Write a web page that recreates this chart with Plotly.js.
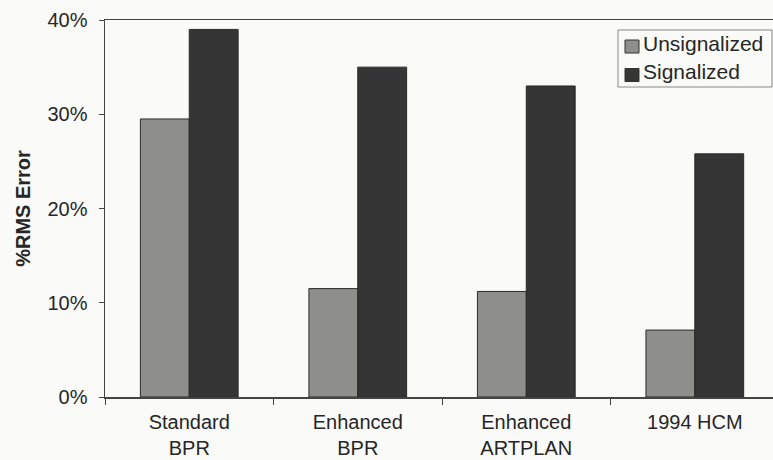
<!DOCTYPE html>
<html>
<head>
<meta charset="utf-8">
<script src="https://cdn.plot.ly/plotly-3.0.1.min.js"></script>
<style>
  html, body { margin: 0; padding: 0; background: #fafaf8; }
  #chart { width: 773px; height: 460px; }
</style>
</head>
<body>
<div id="chart"></div>
<script>
// Model names (two-line labels) and RMS error per intersection type, in percent
const models = ["Standard<br>BPR", "Enhanced<br>BPR", "Enhanced<br>ARTPLAN", "1994 HCM"];
const unsignalized = [29.5, 11.5, 11.2, 7.1];
const signalized = [39.0, 35.0, 33.0, 25.8];
const yTicks = [0, 10, 20, 30, 40];
const yTickText = yTicks.map(v => v + "%");

const W = 773, H = 460;
const M = { l: 105, r: 0, t: 20, b: 63 };
const barLine = { color: "#2a2a2a", width: 1 };

const traces = [
  {
    type: "bar", name: "Unsignalized", x: models, y: unsignalized,
    marker: { color: "#8e8e8c", line: barLine }
  },
  {
    type: "bar", name: "Signalized", x: models, y: signalized,
    marker: { color: "#353535", line: barLine }
  }
];

// Pixel -> paper coordinates for the boxed key in the upper right
const plotW = W - M.l - M.r, plotH = H - M.t - M.b;
const px = x => (x - M.l) / plotW;
const py = y => (H - M.b - y) / plotH;

const shapes = [
  { type: "rect", xref: "paper", yref: "paper",
    x0: px(618), x1: px(772), y0: py(87), y1: py(30),
    fillcolor: "#fafaf8", line: { color: "#888", width: 1 } }
];
const annotations = [];
traces.forEach((t, i) => {
  const top = 40 + i * 28.5;
  shapes.push({ type: "rect", xref: "paper", yref: "paper",
    x0: px(625), x1: px(639), y0: py(top + 13), y1: py(top),
    fillcolor: t.marker.color, line: { color: "#333", width: 1 } });
  annotations.push({ xref: "paper", yref: "paper",
    x: px(641), y: py(top + 3), xanchor: "left", yanchor: "middle",
    text: t.name, showarrow: false, font: { size: 21, color: "#262626" } });
});

const layout = {
  width: W, height: H,
  margin: M,
  paper_bgcolor: "#fafaf8",
  plot_bgcolor: "#fafaf8",
  font: { family: "Liberation Sans, Arial, sans-serif", color: "#262626", size: 20 },
  barmode: "group",
  bargap: 0.42,
  bargroupgap: 0,
  showlegend: false,
  shapes: shapes,
  annotations: annotations,
  xaxis: {
    type: "category",
    range: [-0.5, 3.464],
    showline: true, linecolor: "#444", linewidth: 1.5,
    mirror: true,
    ticks: "outside", tickson: "boundaries", ticklen: 6, tickcolor: "#444",
    ticklabelstandoff: 6,
    tickfont: { size: 20 },
    showgrid: false, zeroline: false, fixedrange: true
  },
  yaxis: {
    range: [0, 40],
    tickvals: yTicks, ticktext: yTickText,
    showline: true, linecolor: "#444", linewidth: 1.5,
    ticks: "outside", ticklen: 5, tickcolor: "#444",
    ticklabelstandoff: 7,
    tickfont: { size: 20 },
    showgrid: false, zeroline: false, fixedrange: true,
    title: { text: "<b>%RMS Error</b>", font: { size: 20 }, standoff: 11 }
  }
};

Plotly.newPlot("chart", traces, layout, { displayModeBar: false, staticPlot: true });
</script>
</body>
</html>
